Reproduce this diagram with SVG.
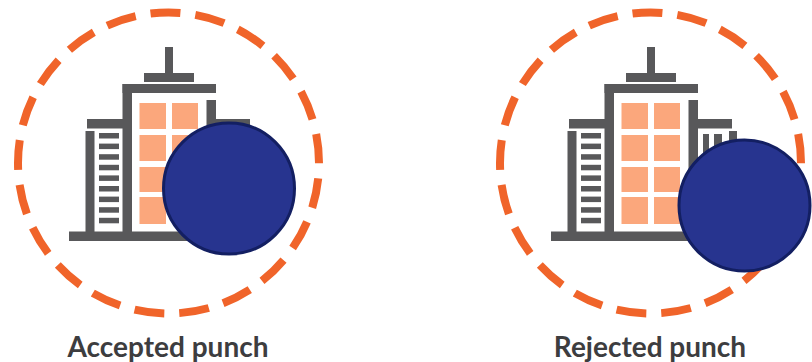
<svg xmlns="http://www.w3.org/2000/svg" width="812" height="362" viewBox="0 0 812 362">
<style>
.ring{fill:none;stroke:#f0642a;stroke-width:8;stroke-dasharray:30 15.03;stroke-dashoffset:-15.4}
.g{fill:#58585a}
.w{fill:#fba77c}
.punch{fill:#27348f;stroke:#131f62;stroke-width:3}
.label{font-family:"Lato","Liberation Sans",sans-serif;font-weight:700;font-size:28px;fill:#3d3d3f;text-anchor:middle}
</style>
<defs>
<g id="building">
<rect class="g" x="165" y="47" width="8" height="27"/>
<rect class="g" x="144" y="73" width="50" height="9"/>
<rect class="g" x="122.500" y="84" width="93.500" height="9"/>
<rect class="g" x="122.500" y="84" width="9.500" height="150"/>
<rect class="g" x="206.500" y="100" width="9.500" height="134"/>
<rect class="g" x="87" y="119" width="36" height="9.500"/>
<rect class="g" x="85.500" y="131" width="9" height="102"/>
<rect class="g" x="215" y="119" width="35" height="9.500"/>
<rect class="g" x="221" y="134" width="6" height="40"/>
<rect class="g" x="232" y="134" width="8" height="40"/>
<rect class="g" x="247" y="131" width="8" height="40"/>
<rect class="g" x="69" y="231.500" width="160" height="9.500"/>
<g class="g">
<rect x="99" y="133" width="20" height="5.500"/><rect x="99" y="143.600" width="20" height="5.500"/><rect x="99" y="154.200" width="20" height="5.500"/><rect x="99" y="164.800" width="20" height="5.500"/><rect x="99" y="175.400" width="20" height="5.500"/><rect x="99" y="186" width="20" height="5.500"/><rect x="99" y="196.600" width="20" height="5.500"/><rect x="99" y="207.200" width="20" height="5.500"/><rect x="99" y="217.800" width="20" height="5.500"/>
</g>
<g class="w">
<rect x="139.500" y="103" width="26.500" height="26"/><rect x="172" y="103" width="26" height="26"/>
<rect x="139.500" y="135" width="26.500" height="26"/><rect x="172" y="135" width="26" height="26"/>
<rect x="139.500" y="167" width="26.500" height="25"/><rect x="172" y="167" width="26" height="25"/>
<rect x="139.500" y="197" width="26.500" height="27"/><rect x="172" y="197" width="26" height="27"/>
</g>
</g>
</defs>
<g id="accepted">
<circle class="ring" cx="168.500" cy="163" r="150.500"/>
<use href="#building"/>
<circle class="punch" cx="229" cy="188.500" r="65.500"/>
<text class="label" x="168" y="357">Accepted punch</text>
</g>
<g id="rejected">
<circle class="ring" cx="650.500" cy="163" r="150.500"/>
<use href="#building" x="482"/>
<circle class="punch" cx="744.500" cy="205.500" r="65.500"/>
<text class="label" x="650" y="357">Rejected punch</text>
</g>
<g id="connectors"/>
</svg>
